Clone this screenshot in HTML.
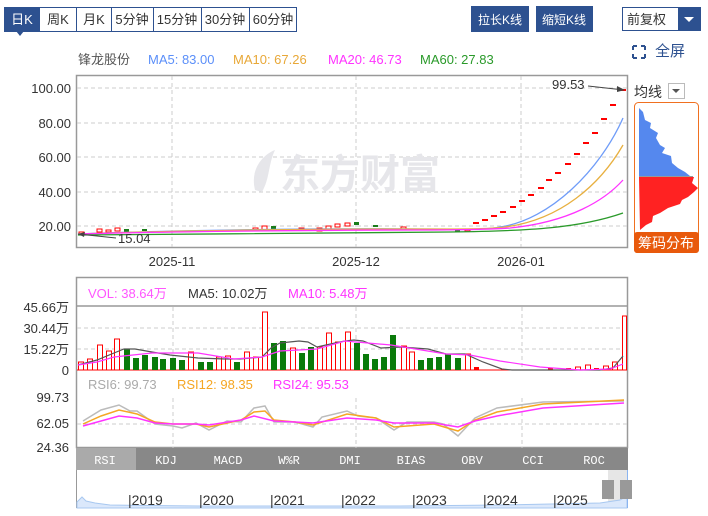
<!DOCTYPE html>
<html><head><meta charset="utf-8"><style>
body{margin:0;background:#fff;width:708px;height:516px;overflow:hidden}
svg{display:block;font-family:"Liberation Sans","Noto Sans CJK SC",sans-serif}
.mono{font-family:"Liberation Mono","Noto Sans CJK SC",monospace}
</style></head><body>
<svg width="708" height="516" viewBox="0 0 708 516" xmlns="http://www.w3.org/2000/svg">
<!-- toolbar -->
<g font-size="13" fill="#333">
<rect x="4.5" y="7.5" width="292" height="24" fill="#fff" stroke="#2d5190"/>
<rect x="4" y="7" width="36" height="25" fill="#2d5190"/>
<polygon points="16,31 24,31 20,36" fill="#2d5190"/>
<line x1="76.5" y1="8" x2="76.5" y2="31" stroke="#2d5190"/>
<line x1="111.5" y1="8" x2="111.5" y2="31" stroke="#2d5190"/>
<line x1="153.5" y1="8" x2="153.5" y2="31" stroke="#2d5190"/>
<line x1="201.5" y1="8" x2="201.5" y2="31" stroke="#2d5190"/>
<line x1="249.5" y1="8" x2="249.5" y2="31" stroke="#2d5190"/>
<text x="22" y="24" fill="#fff" text-anchor="middle">日K</text>
<text x="58" y="24" text-anchor="middle">周K</text>
<text x="94" y="24" text-anchor="middle">月K</text>
<text x="132" y="24" text-anchor="middle">5分钟</text>
<text x="177" y="24" text-anchor="middle">15分钟</text>
<text x="225" y="24" text-anchor="middle">30分钟</text>
<text x="273" y="24" text-anchor="middle">60分钟</text>
<rect x="471" y="6" width="58" height="26" fill="#2d5190"/>
<text x="500" y="24" fill="#fff" text-anchor="middle" font-size="12">拉长K线</text>
<rect x="536" y="6" width="57" height="26" fill="#2d5190"/>
<text x="564" y="24" fill="#fff" text-anchor="middle" font-size="12">缩短K线</text>
<rect x="622.5" y="7.5" width="78" height="23" fill="#fff" stroke="#2d5190"/>
<rect x="678" y="8" width="22" height="22" fill="#2d5190"/>
<polygon points="684,17 694,17 689,22" fill="#fff"/>
<text x="627" y="24">前复权</text>
</g>
<!-- fullscreen -->
<g stroke="#2d5190" stroke-width="2" fill="none">
<path d="M633,46 h4 M633,46 v4 M645,46 h-4 M645,46 v4 M633,58 h4 M633,58 v-4 M645,58 h-4 M645,58 v-4"/>
</g>
<text x="655" y="56" font-size="15" fill="#2d5190">全屏</text>
<!-- header legend -->
<g font-size="13">
<text x="78" y="64" fill="#555">锋龙股份</text>
<text x="148" y="64" fill="#5b8ff9">MA5: 83.00</text>
<text x="233" y="64" fill="#e8a838">MA10: 67.26</text>
<text x="328" y="64" fill="#ff33ff">MA20: 46.73</text>
<text x="420" y="64" fill="#2a9a2a">MA60: 27.83</text>
</g>
<!-- main chart -->
<rect x="76.5" y="75.5" width="551" height="172" fill="#fff" stroke="#999" stroke-width="1.5"/>
<g stroke="#ccc" stroke-dasharray="4,3">
<line x1="77" y1="88" x2="627" y2="88"/><line x1="77" y1="123" x2="627" y2="123"/>
<line x1="77" y1="157" x2="627" y2="157"/><line x1="77" y1="192" x2="627" y2="192"/>
<line x1="77" y1="226" x2="627" y2="226"/>
<line x1="172" y1="76" x2="172" y2="247"/><line x1="356" y1="76" x2="356" y2="247"/><line x1="521" y1="76" x2="521" y2="247"/>
</g>
<g font-size="13" fill="#333" text-anchor="end">
<text x="71" y="93">100.00</text><text x="71" y="128">80.00</text><text x="71" y="162">60.00</text><text x="71" y="197">40.00</text><text x="71" y="231">20.00</text>
</g>
<g font-size="13" fill="#333" text-anchor="middle">
<text x="172" y="266">2025-11</text><text x="356" y="266">2025-12</text><text x="521" y="266">2026-01</text>
</g>
<text x="360" y="188" font-size="40" font-weight="bold" fill="#e6e6ea" text-anchor="middle">东方财富</text>
<path d="M255,190 C250,170 262,155 275,150 C268,165 270,178 262,192 Z" fill="#e6e6ea"/>
<!-- flat candles -->
<g stroke="#f00" fill="#fff" stroke-width="1">
<rect x="79" y="232" width="5" height="3"/><rect x="97" y="229" width="5" height="3"/><rect x="106" y="230" width="5" height="2"/><rect x="115" y="228" width="5" height="3"/>
<rect x="253" y="228" width="5" height="3"/><rect x="262" y="226" width="5" height="4"/><rect x="299" y="228" width="5" height="2"/><rect x="317" y="228" width="5" height="3"/>
<rect x="326" y="226" width="5" height="3"/><rect x="335" y="224" width="5" height="3"/><rect x="345" y="223" width="5" height="3"/><rect x="401" y="227" width="5" height="3"/><rect x="465" y="229" width="5" height="2"/>
</g>
<g fill="#1a7d1a">
<rect x="124" y="229" width="5" height="3"/><rect x="142" y="229" width="5" height="2"/><rect x="271" y="226" width="5" height="3"/><rect x="354" y="222" width="5" height="3"/><rect x="373" y="225" width="5" height="2"/><rect x="455" y="229" width="5" height="3"/>
</g>
<g stroke="#f00" stroke-width="2">
<line x1="473" y1="223" x2="479" y2="223"/><line x1="482" y1="220" x2="488" y2="220"/><line x1="491" y1="216" x2="497" y2="216"/><line x1="500" y1="212" x2="506" y2="212"/>
<line x1="510" y1="207" x2="516" y2="207"/><line x1="519" y1="201" x2="525" y2="201"/><line x1="528" y1="195" x2="534" y2="195"/><line x1="538" y1="188" x2="544" y2="188"/>
<line x1="546" y1="180" x2="552" y2="180"/><line x1="555" y1="173" x2="561" y2="173"/><line x1="565" y1="164" x2="571" y2="164"/><line x1="574" y1="154" x2="580" y2="154"/>
<line x1="583" y1="143" x2="589" y2="143"/><line x1="592" y1="133" x2="598" y2="133"/><line x1="601" y1="119" x2="607" y2="119"/><line x1="610" y1="105" x2="616" y2="105"/><line x1="620" y1="90" x2="626" y2="90"/>
</g>
<g fill="none" stroke-width="1.3">
<path d="M78,234 C150,231 300,228 420,229 C470,229 485,230 500,227 C550,220 600,170 623,118" stroke="#6f9cf8"/>
<path d="M78,234 C150,231 300,229 420,229 C470,229 490,229 505,227 C560,220 600,185 623,145" stroke="#e8b040"/>
<path d="M78,234 C150,232 300,230 420,230 C470,230 495,229 510,228 C570,222 605,200 623,180" stroke="#ff33ff"/>
<path d="M78,235 C200,234 350,233 450,232 C530,231 580,228 623,213" stroke="#2a9a2a"/>
</g>
<line x1="78" y1="234" x2="116" y2="238" stroke="#444"/><polygon points="78,234 85,232 84,237" fill="#444"/>
<text x="118" y="243" font-size="13" fill="#333">15.04</text>
<text x="552" y="89" font-size="13" fill="#333">99.53</text>
<line x1="588" y1="86" x2="624" y2="90" stroke="#444"/><polygon points="625,90 617,86 617,92" fill="#444"/>
<!-- chip distribution -->
<text x="634" y="97" font-size="14" fill="#333">均线</text>
<rect x="668.5" y="83.5" width="16" height="15" fill="#fff" stroke="#bbb"/>
<polygon points="672,89 680,89 676,93" fill="#555"/>
<rect x="634.5" y="102.5" width="64" height="150" rx="4" fill="#fff" stroke="#f07020"/>
<polygon points="639,108 643,112 645,120 651,123 650,128 658,133 656,138 660,145 665,148 662,153 671,156 672,163 678,168 685,172 690,176 639,176" fill="#5588ee"/>
<line x1="639" y1="176.5" x2="693" y2="176.5" stroke="#999"/>
<polygon points="639,177 694,177 692,183 698,188 694,192 688,197 682,200 680,204 668,208 660,213 653,216 652,222 646,225 640,230" fill="#ff2222"/>
<rect x="634" y="232" width="65" height="21" rx="3" fill="#e8590c"/>
<text x="666" y="248" font-size="14" fill="#fff" text-anchor="middle">筹码分布</text>
<!-- volume -->
<rect x="76.5" y="277.5" width="551" height="170" fill="none" stroke="#999" stroke-width="1.5"/>
<line x1="77" y1="306" x2="627" y2="306" stroke="#999" stroke-width="1.5"/>
<g font-size="13">
<text x="88" y="298" fill="#ff55ff">VOL: 38.64万</text>
<text x="188" y="298" fill="#333">MA5: 10.02万</text>
<text x="288" y="298" fill="#ff33ff">MA10: 5.48万</text>
</g>
<g stroke="#ccc" stroke-dasharray="4,3">
<line x1="77" y1="328" x2="627" y2="328"/><line x1="77" y1="349" x2="627" y2="349"/>
<line x1="173" y1="307" x2="173" y2="370"/><line x1="356" y1="307" x2="356" y2="370"/><line x1="522" y1="307" x2="522" y2="370"/>
<line x1="77" y1="424" x2="627" y2="424"/>
<line x1="173" y1="398" x2="173" y2="448"/><line x1="356" y1="398" x2="356" y2="448"/><line x1="522" y1="398" x2="522" y2="448"/>
</g>
<g font-size="13" fill="#333" text-anchor="end">
<text x="69" y="312">45.66万</text><text x="69" y="333">30.44万</text><text x="69" y="354">15.22万</text><text x="69" y="375">0</text>
<text x="69" y="402">99.73</text><text x="69" y="428">62.05</text><text x="69" y="452">24.36</text>
</g>
<line x1="77" y1="370" x2="627" y2="370" stroke="#f00"/>
<g stroke="#f00" fill="#fff">
<rect x="78.5" y="362" width="5" height="8"/><rect x="87.5" y="359" width="5" height="11"/><rect x="97.5" y="345" width="5" height="25"/><rect x="106.5" y="351" width="5" height="19"/><rect x="114.5" y="339" width="5" height="31"/>
<rect x="188.5" y="352" width="5" height="18"/><rect x="216.5" y="357" width="5" height="13"/><rect x="225.5" y="356" width="5" height="14"/><rect x="244.5" y="352" width="5" height="18"/><rect x="253.5" y="357" width="5" height="13"/><rect x="262.5" y="312" width="5" height="58"/>
<rect x="290.5" y="348" width="5" height="22"/><rect x="317.5" y="347" width="5" height="23"/><rect x="326.5" y="333" width="5" height="37"/><rect x="335.5" y="342" width="5" height="28"/><rect x="345.5" y="332" width="5" height="38"/>
<rect x="401.5" y="346" width="5" height="24"/><rect x="409.5" y="352" width="5" height="18"/><rect x="465.5" y="354" width="5" height="16"/>
<rect x="575.5" y="367" width="5" height="3"/><rect x="585.5" y="365" width="5" height="5"/><rect x="603.5" y="366" width="5" height="4"/><rect x="612.5" y="362" width="5" height="8"/><rect x="622.5" y="316" width="4" height="54"/>
</g>
<g fill="#f00"><rect x="474" y="367" width="5" height="3"/><rect x="548" y="368" width="5" height="2"/><rect x="566" y="368" width="5" height="2"/><rect x="594" y="368" width="5" height="2"/></g>
<g fill="#0a7a0a">
<rect x="124" y="349" width="6" height="21"/><rect x="133" y="358" width="6" height="12"/><rect x="142" y="355" width="6" height="15"/><rect x="152" y="357" width="6" height="13"/><rect x="160" y="359" width="6" height="11"/><rect x="170" y="358" width="6" height="12"/><rect x="179" y="360" width="6" height="10"/>
<rect x="198" y="362" width="6" height="8"/><rect x="207" y="362" width="6" height="8"/><rect x="234" y="362" width="6" height="8"/>
<rect x="271" y="343" width="6" height="27"/><rect x="280" y="341" width="6" height="29"/><rect x="299" y="353" width="6" height="17"/><rect x="308" y="347" width="6" height="23"/>
<rect x="354" y="343" width="6" height="27"/><rect x="363" y="354" width="6" height="16"/><rect x="372" y="359" width="6" height="11"/><rect x="381" y="357" width="6" height="13"/><rect x="390" y="335" width="6" height="35"/>
<rect x="418" y="360" width="6" height="10"/><rect x="427" y="358" width="6" height="12"/><rect x="436" y="357" width="6" height="13"/><rect x="445" y="354" width="6" height="16"/><rect x="455" y="358" width="6" height="12"/>
</g>
<polyline fill="none" stroke="#555" stroke-width="1.2" points="78,365 97,360 114,353 124,349 135,349 152,352 170,355 198,358 225,359 240,359 262,357 271,348 280,343 299,341 308,342 317,347 335,343 345,341 354,340 363,341 381,348 401,347 428,349 446,354 465,354 483,362 502,369 512,370 600,370 613,368 623,356"/>
<polyline fill="none" stroke="#ff33ff" stroke-width="1.2" points="78,365 97,362 114,357 152,353 198,353 234,359 262,357 280,351 317,349 345,341 391,345 446,354 470,355 500,361 540,367 580,370 610,369 623,364"/>
<!-- RSI -->
<g font-size="13">
<text x="88" y="389" fill="#aaa">RSI6: 99.73</text>
<text x="177" y="389" fill="#f5a623">RSI12: 98.35</text>
<text x="273" y="389" fill="#ff33ff">RSI24: 95.53</text>
</g>
<polyline fill="none" stroke="#bbb" stroke-width="1.5" points="83,421 101,410 119,405 130,411 137,411 155,424 173,426 182,428 196,423 209,430 227,421 241,422 254,408 265,406 274,422 295,422 313,427 322,417 347,411 358,416 376,418 394,430 407,422 434,422 443,424 458,436 475,418 497,408 543,402 624,401"/>
<polyline fill="none" stroke="#f5a623" stroke-width="1.5" points="83,424 101,416 119,410 137,414 155,422 173,424 196,424 209,427 241,420 254,412 265,411 274,420 295,422 313,425 347,414 376,418 394,427 434,424 458,431 475,420 497,412 543,404 624,400"/>
<polyline fill="none" stroke="#ff33ff" stroke-width="1.5" points="83,426 101,421 119,416 137,418 155,423 173,424 196,424 209,425 241,420 254,416 274,421 295,422 313,423 347,418 376,420 394,423 434,423 458,427 475,421 497,416 543,408 624,403"/>
<!-- tabs -->
<rect x="76" y="448" width="552" height="22" fill="#888"/>
<rect x="76" y="448" width="60" height="22" fill="#aaa"/>
<g class="mono" font-size="12" fill="#fff" text-anchor="middle">
<text x="105" y="464">RSI</text><text x="166" y="464">KDJ</text><text x="228" y="464">MACD</text><text x="289" y="464">W%R</text><text x="350" y="464">DMI</text><text x="411" y="464">BIAS</text><text x="472" y="464">OBV</text><text x="533" y="464">CCI</text><text x="594" y="464">ROC</text>
</g>
<!-- navigator -->
<line x1="76.5" y1="470" x2="76.5" y2="508" stroke="#999"/>
<rect x="608" y="470" width="19" height="38" fill="#e6e6e6"/>
<path d="M77,508 L77,502 L82,497 L86,501 L95,503 L110,505 L200,506 L400,506 L500,505 L600,503 L620,500 L627,496 L627,508 Z" fill="#dbe8fb" stroke="#a8c8f0"/>
<line x1="627.5" y1="470" x2="627.5" y2="508" stroke="#8ab4f0"/>
<g font-size="14" fill="#333">
<text x="128" y="505">|2019</text><text x="199" y="505">|2020</text><text x="270" y="505">|2021</text><text x="341" y="505">|2022</text><text x="412" y="505">|2023</text><text x="483" y="505">|2024</text><text x="553" y="505">|2025</text>
</g>
<rect x="602" y="480" width="12" height="19" fill="#999"/>
<rect x="620" y="480" width="12" height="19" fill="#999"/>
</svg>
</body></html>
